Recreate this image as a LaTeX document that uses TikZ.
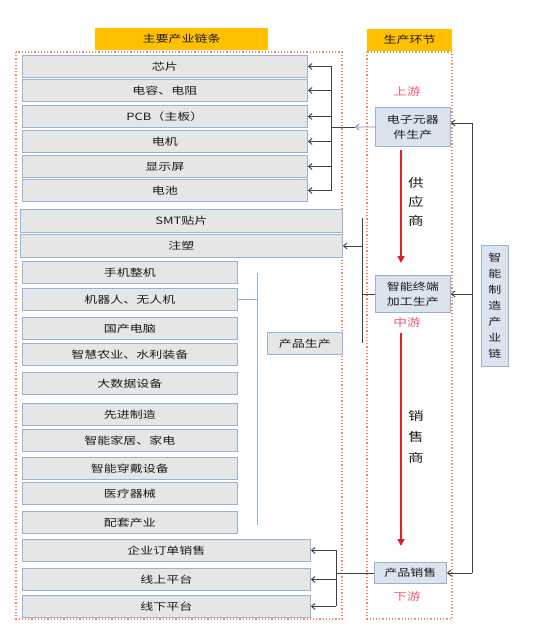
\documentclass[tikz,border=0pt]{standalone}
\usepackage{fontspec}
\setmainfont[FakeStretch=1.3]{Noto Sans CJK SC}
\usetikzlibrary{arrows.meta}
\begin{document}
\begin{tikzpicture}[x=1pt,y=-1pt,
    caja/.style={draw=bazul,fill=gcaja,line width=0.9pt,inner sep=0pt,anchor=north west,
        minimum height=22pt,font=\fontsize{10}{10}\selectfont,text=tnegro},
    etapa/.style={draw=bazul,fill=getapa,line width=0.9pt,inner sep=0pt,anchor=north west,
        align=center,font=\fontsize{10}{15}\selectfont,text=tnegro},
    cabecera/.style={fill=oro,inner sep=0pt,anchor=north west,minimum height=22pt,
        font=\fontsize{10}{10}\selectfont,text=tnegro},
    marco/.style={draw=naranja,dotted,line width=1.2pt},
    linea/.style={draw=gris,line width=0.9pt},
    punta/.style={-{Straight Barb[length=3.5pt,width=6pt]}},
    roja/.style={draw=rojo,line width=1.6pt,-{Triangle[length=7pt,width=7pt]}},
    rotulo/.style={text=rosa,font=\fontsize{10.5}{12}\selectfont},
    vertical/.style={align=center,text=tnegro,font=\fontsize{12}{19}\selectfont}]
    %colores
    \definecolor{bazul}{HTML}{95B3D7}
    \definecolor{gcaja}{HTML}{E7E6E6}
    \definecolor{getapa}{HTML}{DCE3EE}
    \definecolor{oro}{HTML}{FFC000}
    \definecolor{naranja}{HTML}{F08A5D}
    \definecolor{gris}{HTML}{404040}
    \definecolor{rojo}{HTML}{E01F26}
    \definecolor{rosa}{HTML}{EE5A72}
    \definecolor{tnegro}{HTML}{1A1A1A}
    \useasboundingbox (0,0) rectangle (542,642);

    % cabeceras y marcos
    \node[cabecera,minimum width=173pt] (cab1) at (95,28) {主要产业链条};
    \node[cabecera,minimum width=85pt] (cab2) at (367,29) {生产环节};
    \draw[marco] (16,52) rectangle (342,619);
    \draw[marco] (367,52) rectangle (452,619);

    % eslabones: componentes
    \foreach \y/\t [count=\i] in {55/芯片,79/电容、电阻,105/PCB（主板）,130/电机,155/显示屏,179/电池}
        \node[caja,minimum width=285pt] (c\i) at (22,\y) {\t};
    \node[caja,minimum width=322pt,minimum height=23pt] (smt) at (20,209) {SMT贴片};
    \node[caja,minimum width=322pt,minimum height=23pt] (zs) at (20,234) {注塑};

    % eslabones: productos
    \foreach \y/\t [count=\i] in {261/手机整机,288/机器人、无人机,317/国产电脑,343/智慧农业、水利装备,372/大数据设备,
        403/先进制造,429/智能家居、家电,457/智能穿戴设备,482/医疗器械,511/配套产业}
        \node[caja,minimum width=215pt] (p\i) at (22,\y) {\t};
    \node[caja,minimum width=75pt] (pp) at (267,332) {产品生产};

    % eslabones: ventas
    \foreach \y/\t [count=\i] in {539/企业订单销售,568/线上平台,595/线下平台}
        \node[caja,minimum width=288pt] (v\i) at (22,\y) {\t};

    % etapas de produccion
    \node[etapa,minimum width=75pt,minimum height=39pt] (e1) at (375,107) {电子元器\\件生产};
    \node[etapa,minimum width=75pt,minimum height=37pt] (e2) at (375,275) {智能终端\\加工生产};
    \node[etapa,minimum width=72pt,minimum height=21pt] (e3) at (374,562) {产品销售};
    \node[etapa,minimum width=27pt,minimum height=121pt,font=\fontsize{10}{16}\selectfont] (lado) at (481,245)
        {智\\能\\制\\造\\产\\业\\链};

    % rotulos rojos
    \node[rotulo] (up) at (407,92) {上游};
    \node[rotulo] (mid) at (407,323) {中游};
    \node[rotulo] (down) at (407,596) {下游};

    % flechas rojas
    \coordinate (r1a) at (401,150);
    \coordinate (r1b) at (401,263);
    \coordinate (r2a) at (401,333);
    \coordinate (r2b) at (401,546);
    \draw[roja] (r1a) -- (r1b);
    \draw[roja] (r2a) -- (r2b);
    \node[vertical] (gys) at (416,202) {供\\应\\商};
    \node[vertical,font=\fontsize{12}{21}\selectfont] (xss) at (416,437) {销\\售\\商};

    % corchete superior
    \coordinate (b1t) at (331,66);
    \coordinate (b1b) at (331,191);
    \coordinate (m1) at (355,127);
    \draw[linea] (b1t) -- (b1b);
    \foreach \i in {1,...,6}
        \draw[linea,punta] (b1t |- c\i.east) -- (c\i.east);
    \draw[draw=bazul!80!black,line width=0.9pt,punta] (e1.west) -- (m1);
    \draw[linea] (m1) -- (b1t |- m1);

    % corchete medio
    \coordinate (b2t) at (362,218);
    \coordinate (b2b) at (362,343);
    \draw[linea] (b2t) -- (b2b);
    \draw[linea,punta] (b2t |- zs.east) -- (zs.east);
    \draw[linea] (e2.west) -- (b2t |- e2.west);

    % linea de productos
    \coordinate (b3t) at (257,273);
    \coordinate (b3b) at (257,525);
    \draw[draw=bazul,line width=0.9pt] (b3t) -- (b3b);
    \draw[draw=bazul,line width=0.9pt] (p2.east) -- (b3t |- p2.east);

    % corchete inferior
    \coordinate (b4t) at (336,550);
    \coordinate (b4b) at (336,606);
    \draw[linea] (b4t) -- (b4b);
    \foreach \i in {1,2,3}
        \draw[linea,punta] (b4t |- v\i.east) -- (v\i.east);
    \draw[linea] (e3.west) -- (b4t |- e3.west);

    % linea derecha
    \coordinate (d1) at (472,123);
    \coordinate (d2) at (472,573);
    \draw[linea] (d1) -- (d2);
    \draw[linea,punta] (d1) -- (d1 -| e1.east);
    \draw[linea,punta] (d1 |- e2.east) -- (e2.east);
    \draw[linea,punta] (d2) -- (d2 -| e3.east);
\end{tikzpicture}
\end{document}
